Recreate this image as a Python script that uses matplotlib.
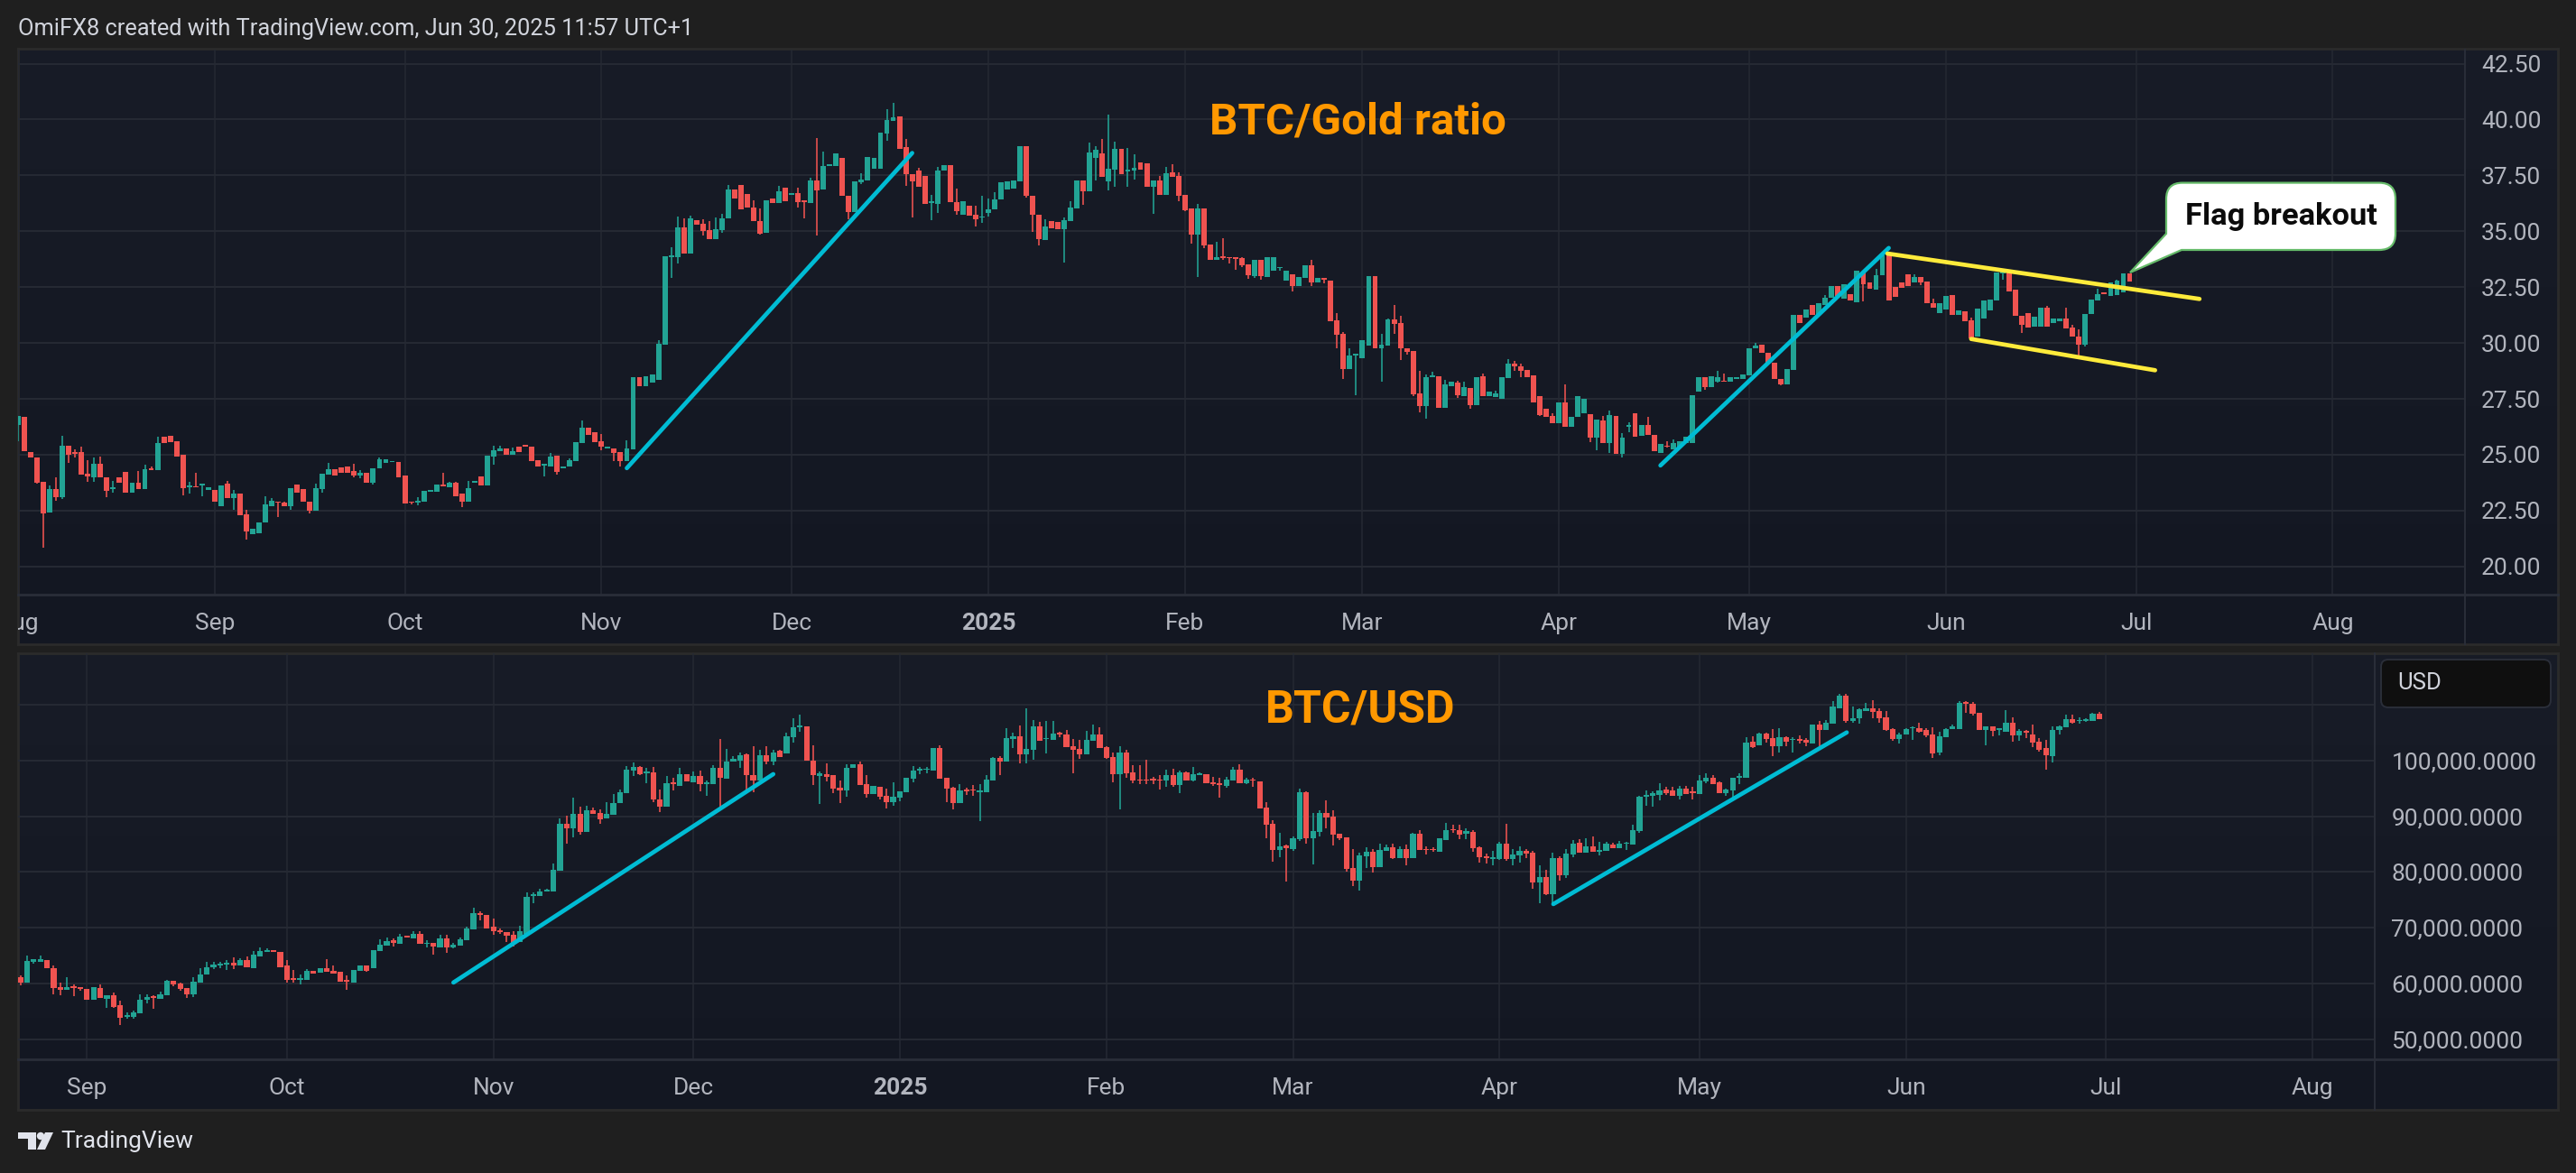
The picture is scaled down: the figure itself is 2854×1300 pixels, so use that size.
import matplotlib
matplotlib.use("Agg")
import matplotlib.pyplot as plt
import matplotlib.dates as mdates
import numpy as np
import pandas as pd
from matplotlib.path import Path
from matplotlib.patches import PathPatch, Polygon, Circle, FancyBboxPatch
from matplotlib.transforms import Affine2D

plt.rcParams['font.family'] = ['Roboto', 'DejaVu Sans']

# ---------- BTC/Gold ratio, daily from 2024-08-01 ----------
ratio_start = '2024-08-01'
ratio_open = [
26.35,26.68,25.10,24.86,23.79,22.41,23.47,23.10,25.42,25.10,
25.12,24.16,23.99,24.60,23.97,23.47,23.99,24.23,23.29,23.75,
23.47,24.40,24.31,25.79,25.85,25.59,25.01,23.55,23.60,23.62,
23.41,23.41,22.69,23.69,23.04,23.27,22.34,21.43,21.49,21.95,
22.71,22.91,22.86,22.69,23.66,23.47,22.91,22.49,23.47,24.10,
24.36,24.42,24.49,24.27,24.07,24.20,23.75,24.38,24.62,24.66,
24.68,24.07,22.90,22.86,22.88,23.36,23.34,23.66,23.53,23.73,
23.25,22.88,23.75,24.03,23.62,24.92,25.16,25.29,25.01,25.38,
25.46,25.36,24.75,24.51,24.49,24.96,24.38,24.47,24.73,25.51,
26.22,25.99,25.61,25.29,25.29,25.12,24.73,25.23,28.45,28.06,
28.24,28.33,29.93,33.83,33.83,35.18,34.01,35.50,35.35,35.07,
34.65,35.07,35.59,36.87,37.08,36.65,36.08,35.46,34.92,36.46,
36.28,36.95,36.61,36.72,36.39,36.28,37.28,36.85,37.93,37.91,
38.27,36.60,35.85,37.20,37.29,37.81,37.81,39.37,39.94,40.12,
38.77,37.55,37.72,37.48,36.25,36.24,37.72,37.96,36.32,35.72,
36.13,35.73,35.60,35.80,35.98,36.42,36.87,36.91,37.25,38.81,
36.58,35.73,34.61,35.46,35.41,35.10,35.46,36.03,37.27,36.79,
38.29,38.48,37.25,37.74,38.68,37.68,37.72,38.06,38.03,36.99,
37.27,36.63,37.62,37.48,36.63,36.01,34.85,36.01,34.42,33.70,
33.87,33.84,33.82,33.78,33.51,33.01,33.72,32.97,33.25,33.34,
32.80,33.06,32.54,32.90,33.47,32.72,32.90,32.78,31.01,30.42,
28.85,29.42,29.30,29.89,32.99,29.78,29.87,31.06,30.90,29.78,
29.63,27.73,27.19,28.49,28.52,27.11,28.06,28.23,27.63,27.99,
27.23,28.52,27.64,27.59,27.52,28.42,29.08,28.97,28.78,28.54,
27.61,27.04,26.75,26.42,27.33,26.26,26.68,26.87,26.81,25.76,
26.54,25.54,26.75,25.02,26.25,26.85,25.83,26.33,25.88,25.09,
25.42,25.26,25.33,25.54,25.54,27.83,28.49,28.04,28.26,28.30,
28.25,28.38,28.40,28.57,29.78,29.92,29.58,29.11,28.40,28.14,
28.78,31.25,31.13,31.70,31.25,31.68,32.01,32.56,31.99,32.20,
31.84,33.20,32.72,32.39,33.03,33.92,32.51,32.70,33.06,32.72,
32.97,32.77,31.80,31.32,31.51,32.13,31.25,31.42,31.02,30.27,
31.11,31.47,31.92,33.11,33.20,32.37,31.20,31.32,30.75,30.75,
31.58,30.89,30.97,31.08,30.70,30.30,29.94,31.28,31.92,32.27,
32.11,32.16,32.25,33.11]
ratio_close = [
26.72,25.14,24.86,23.75,22.39,23.47,23.10,25.42,24.99,25.03,
24.12,24.03,24.60,23.97,23.38,23.55,23.73,23.29,23.75,23.47,
24.36,24.31,25.53,25.53,25.57,24.92,23.51,23.62,23.55,23.69,
23.56,22.88,23.62,23.06,23.27,22.30,21.58,21.69,21.95,22.78,
22.93,22.86,22.71,23.51,23.29,22.91,22.49,23.51,24.14,24.36,
24.08,24.18,24.21,24.05,24.20,23.75,24.38,24.81,24.81,24.71,
23.97,22.82,22.84,22.93,23.40,23.41,23.66,23.58,23.73,23.16,
22.90,23.51,23.82,23.62,24.96,25.20,25.29,24.99,25.16,25.10,
25.36,24.71,24.49,24.60,24.92,24.23,24.47,24.77,25.55,26.22,
25.88,25.55,25.36,25.36,25.09,24.73,25.27,28.45,28.06,28.52,
28.59,29.97,33.90,33.94,35.18,34.01,35.56,35.31,35.02,34.65,
35.11,35.59,36.87,36.46,35.96,36.06,35.44,34.89,36.39,36.28,
36.80,36.35,36.72,36.32,36.32,37.28,36.84,37.91,38.00,38.47,
36.60,35.85,37.25,37.31,38.31,38.27,39.41,39.98,40.10,38.70,
37.55,37.25,36.98,36.24,36.34,37.72,37.96,36.32,35.89,36.34,
35.70,35.53,35.65,35.98,36.44,37.18,37.25,37.27,38.81,36.60,
35.72,34.65,35.22,35.13,35.11,35.51,36.06,37.29,36.79,38.53,
38.65,37.43,37.79,38.70,37.55,37.75,37.84,37.77,36.99,37.29,
36.63,37.60,37.43,36.58,35.92,34.85,36.01,34.35,33.70,33.85,
33.80,33.78,33.77,33.46,33.03,33.70,32.99,33.84,33.84,33.39,
33.22,32.54,32.96,33.47,32.72,32.90,32.84,30.99,30.37,28.85,
29.44,29.52,30.11,32.99,29.78,29.92,31.06,30.87,29.78,29.61,
27.69,27.19,28.47,28.56,27.11,28.14,28.26,27.68,28.02,27.23,
28.49,27.64,27.82,27.75,28.47,29.09,28.94,28.75,28.49,27.35,
26.78,26.68,26.42,27.32,26.26,26.68,27.61,27.51,25.78,26.56,
25.54,26.76,25.04,25.75,26.35,25.80,26.35,25.87,25.14,25.50,
25.37,25.54,25.61,25.80,27.66,28.49,28.01,28.52,28.49,28.25,
28.45,28.49,28.61,29.78,29.90,29.58,29.11,28.40,28.14,28.82,
31.25,30.89,31.49,31.25,31.77,32.03,32.56,32.11,32.63,31.90,
33.23,32.63,32.42,33.04,33.92,31.92,32.08,32.46,32.54,32.97,
32.72,31.80,31.59,31.80,32.11,31.27,31.47,30.99,30.21,31.53,
31.90,31.96,33.15,33.18,32.32,31.20,30.83,30.70,31.16,31.58,
30.75,31.11,31.08,30.66,30.27,29.94,31.28,31.94,32.20,32.20,
32.72,32.78,33.11,32.77]
ratio_high = {4:23.79,5:23.62,6:23.99,7:25.85,9:25.23,10:25.36,11:24.77,12:24.88,13:24.92,15:23.84,19:24.27,20:24.55,21:24.49,22:25.79,
28:24.19,27:23.80,33:23.84,34:23.43,36:22.54,39:23.16,40:23.06,42:22.91,47:23.69,49:24.62,53:24.58,54:24.31,57:24.86,63:23.10,67:24.21,68:23.80,69:23.80,
71:23.84,75:25.42,76:25.42,78:25.33,84:25.07,87:24.84,89:26.53,92:25.92,96:25.64,101:30.12,103:34.29,104:35.67,105:35.57,106:35.68,108:35.54,109:35.44,110:35.63,111:35.76,112:37.06,
116:36.37,117:36.00,120:37.04,123:36.93,125:37.39,126:39.16,127:38.58,133:37.60,137:40.46,138:40.74,140:39.13,142:37.84,144:36.63,145:37.89,148:36.91,151:36.13,152:36.58,153:36.46,154:36.74,
162:35.53,165:35.61,166:36.34,169:38.98,170:38.81,171:39.13,172:40.22,173:39.01,175:38.72,176:38.44,180:37.49,181:37.87,182:38.01,183:37.63,186:36.22,189:34.53,190:34.67,193:33.84,
204:33.70,208:31.34,209:30.47,210:29.78,215:30.39,216:31.11,217:31.68,218:31.20,221:28.75,222:28.61,223:28.70,225:28.35,227:28.32,228:28.26,231:28.63,233:27.87,235:29.28,236:29.18,237:29.09,
242:26.85,244:28.14,250:26.73,251:26.97,253:25.95,254:26.45,257:26.71,260:25.62,261:25.68,268:28.75,269:28.64,274:29.99,285:32.15,293:33.32,299:33.08,302:31.97,308:31.13,313:33.23,320:31.65,323:31.56,324:30.80,325:30.61,328:32.41,331:32.84}
ratio_low = {0:25.60,3:23.71,4:20.84,6:22.95,7:23.01,8:24.64,9:24.86,11:23.80,12:23.80,14:23.12,15:23.29,26:23.19,27:23.25,29:23.16,34:22.54,36:21.19,41:22.21,43:22.54,46:22.36,48:23.29,53:23.99,54:23.93,56:23.66,62:22.77,63:22.75,70:22.64,75:24.55,
83:24.03,85:24.10,92:25.18,94:24.73,95:24.49,103:32.90,104:33.57,108:34.79,111:34.94,117:34.85,123:36.06,124:35.57,126:34.79,131:35.54,133:37.11,137:39.05,140:37.01,141:35.60,144:35.48,145:35.82,148:35.73,151:35.22,152:35.36,153:35.65,
159:36.49,160:34.96,161:34.37,165:33.60,168:36.17,170:37.29,172:36.82,173:36.98,175:36.99,176:37.32,179:35.79,183:36.34,184:35.89,185:34.46,186:32.97,187:34.25,190:33.70,191:33.56,192:33.27,193:33.41,194:32.87,195:32.90,196:32.85,199:33.23,201:32.32,204:32.53,206:32.66,
208:29.78,209:28.38,211:27.66,215:28.28,217:30.42,218:29.25,219:29.47,220:27.63,221:26.90,222:26.63,227:27.54,229:27.07,236:28.75,237:28.49,240:26.73,248:25.56,249:25.18,251:25.09,253:24.87,254:26.02,260:25.31,266:27.92,268:28.23,278:28.11,291:31.85,300:32.59,308:30.09,313:32.85,316:30.44,325:29.44,326:29.83}

# ---------- BTC/USD in thousands of dollars, daily from 2024-08-22 ----------
btc_start = '2024-08-22'
btc_open = [
61.08,60.12,63.95,63.89,64.19,62.81,59.34,58.80,59.58,59.40,
59.04,57.07,59.16,57.31,57.90,56.11,54.01,54.01,54.61,57.01,
57.72,57.31,57.84,60.48,60.00,59.16,58.02,60.12,61.68,62.99,
63.17,63.35,63.71,63.23,64.19,62.69,64.91,65.69,65.93,65.63,
63.29,60.96,60.66,60.60,62.22,61.92,62.81,62.27,62.16,60.60,
60.12,62.27,63.17,62.69,65.87,66.77,67.78,67.19,68.56,68.08,
68.98,67.07,67.31,66.47,68.08,66.47,66.83,67.78,69.76,72.57,
72.28,70.18,69.52,69.28,68.68,67.48,68.98,75.69,75.69,76.53,
76.47,80.30,88.62,87.84,90.48,87.19,91.08,90.60,89.58,90.30,
92.34,94.07,98.20,98.86,97.66,97.84,92.99,91.74,96.11,95.45,
97.49,96.11,97.25,95.75,95.75,98.62,96.77,99.82,99.94,101.08,
97.37,96.41,101.02,99.82,101.74,101.26,104.19,105.93,106.11,100.00,
97.25,97.54,97.31,95.09,94.67,98.68,99.34,95.75,94.01,95.27,
93.65,92.51,93.41,94.31,96.77,98.14,98.32,98.20,102.22,96.89,
95.09,92.34,94.73,94.73,94.31,94.31,96.47,100.48,99.82,103.83,
104.31,101.08,101.92,106.11,103.83,103.71,104.91,104.67,102.51,102.10,
101.08,103.53,104.67,102.46,100.66,97.54,101.44,97.84,96.65,96.65,
96.71,96.59,96.41,97.37,95.63,97.84,96.35,97.37,97.60,96.11,
95.93,95.39,96.41,98.32,95.93,96.65,96.29,91.56,88.62,83.95,
84.73,84.07,85.87,94.37,86.05,87.19,90.54,89.94,86.83,86.29,
80.72,78.44,82.75,83.65,80.84,83.77,84.43,82.51,84.07,82.51,
86.83,84.13,84.19,83.59,85.75,87.60,87.55,86.89,87.25,84.43,
82.75,82.40,82.34,85.03,82.34,82.99,83.71,83.47,78.20,79.10,
75.99,82.51,79.34,83.11,85.21,83.53,84.61,83.65,83.71,84.97,
84.25,85.03,84.91,87.37,93.47,93.71,93.89,94.79,94.61,93.65,
94.91,94.43,94.01,96.29,96.89,96.11,94.13,94.61,96.83,96.89,
103.41,102.69,104.85,104.01,102.51,104.19,103.71,103.83,103.65,103.05,
106.47,105.39,106.59,109.40,111.68,107.01,107.54,108.86,109.28,108.92,
107.66,105.63,103.83,104.61,105.75,105.75,105.45,104.67,101.50,104.13,
105.63,105.63,110.42,110.18,108.62,105.51,106.05,105.51,105.21,106.77,
104.43,105.27,104.67,103.35,102.16,100.84,105.45,105.93,107.43,107.01,
107.13,107.13,108.38]
btc_close = [
60.12,64.01,64.37,64.37,62.81,59.16,58.92,59.34,59.22,59.04,
57.07,59.28,57.43,57.90,55.87,53.83,54.37,54.79,57.07,57.54,
57.43,58.02,60.48,59.76,59.04,58.02,60.30,61.68,62.87,63.35,
63.53,63.77,63.29,64.19,62.93,65.15,65.75,66.05,65.63,62.99,
60.60,60.72,61.02,62.27,61.80,62.81,62.04,61.80,60.30,60.36,
62.39,63.29,62.27,65.99,66.95,67.60,67.36,68.38,68.26,68.98,
67.07,67.36,66.59,68.08,66.47,66.95,67.90,69.88,72.63,72.22,
69.88,69.40,69.22,68.50,67.31,69.40,75.57,75.99,76.47,76.77,
80.36,88.62,87.78,90.48,87.13,91.08,90.42,89.52,90.42,92.40,
94.31,98.32,98.86,97.54,98.02,92.93,91.74,95.87,95.75,97.49,
96.17,97.25,95.75,96.11,98.74,96.83,99.82,100.36,101.02,97.31,
96.41,101.02,99.82,101.44,100.66,104.31,105.99,106.23,100.00,97.31,
97.78,97.13,94.91,94.61,98.68,99.40,95.63,94.01,95.45,93.47,
92.51,93.47,94.49,96.89,98.20,98.44,98.56,102.22,96.77,95.03,
92.34,94.61,94.49,94.55,94.61,96.53,100.48,99.82,104.01,104.31,
101.08,102.04,106.11,103.47,104.01,104.85,104.61,102.46,101.92,101.08,
103.71,104.67,102.22,100.42,97.60,101.44,97.72,96.41,96.47,96.47,
96.47,96.35,97.37,95.63,97.90,96.41,97.60,97.72,95.93,95.69,
95.63,96.65,98.32,95.93,96.53,96.41,91.44,88.56,83.95,84.67,
84.25,86.05,94.31,86.05,87.31,90.66,89.76,86.71,86.05,80.54,
78.44,82.99,83.65,80.84,83.95,84.43,82.45,84.07,82.51,86.83,
83.95,83.95,83.89,85.99,87.43,87.43,86.77,87.31,84.25,82.63,
82.51,82.63,85.03,82.34,83.11,83.83,83.23,78.20,79.10,75.99,
82.51,79.40,83.23,85.15,83.47,84.61,83.59,83.95,85.03,84.25,
85.09,85.21,87.49,93.47,93.83,94.07,94.61,94.13,93.71,94.91,
94.01,94.19,96.35,96.95,95.81,94.13,94.73,96.83,97.25,103.23,
102.46,104.85,103.83,102.63,104.19,103.41,103.89,103.59,103.23,106.47,
105.39,106.71,109.70,111.68,107.01,107.60,109.22,109.28,108.74,107.54,
105.51,103.83,104.73,105.63,105.99,105.21,104.43,101.32,104.31,105.63,
106.11,110.30,110.18,108.38,105.51,106.05,105.33,105.81,106.77,104.49,
105.33,104.91,103.23,101.92,100.96,105.45,106.11,107.43,106.71,107.31,
107.43,108.38,107.49]
btc_high = {0:61.44,1:65.03,3:65.03,5:63.17,6:60.12,7:61.14,8:59.76,12:59.82,14:58.38,15:56.89,16:54.79,17:55.21,18:58.02,19:58.02,20:57.96,21:58.50,22:60.66,24:60.24,26:61.08,27:62.69,28:63.83,29:63.83,30:63.83,31:64.19,32:64.67,33:64.49,34:64.79,35:65.75,36:66.41,37:66.29,
40:64.19,41:62.39,42:61.68,43:62.51,46:64.37,47:63.23,49:61.50,54:67.90,55:68.26,56:68.02,57:68.86,59:69.46,60:69.46,61:67.78,63:68.80,64:68.68,65:67.31,66:68.26,67:70.18,68:73.59,69:72.93,71:71.62,72:69.82,74:69.46,75:70.42,76:76.41,77:76.41,78:77.07,79:77.07,80:81.56,81:89.58,82:90.06,83:93.35,84:91.74,85:91.92,86:91.62,87:91.26,88:92.46,89:93.95,
90:94.73,91:99.04,92:99.64,93:99.04,94:98.62,95:98.80,96:94.85,97:97.25,98:96.83,99:98.62,101:97.96,102:98.20,103:96.35,104:99.10,105:103.83,106:102.10,107:100.72,108:101.44,109:101.32,110:102.51,111:101.92,112:102.51,113:101.86,114:101.92,115:104.91,116:107.60,117:108.20,119:102.69,120:98.02,121:99.46,123:96.41,124:99.40,126:99.82,127:97.31,130:94.97,131:96.11,
134:98.92,135:98.80,136:98.86,138:102.69,140:95.27,141:95.75,142:95.15,143:95.63,144:95.81,145:97.31,146:100.66,147:100.78,148:105.81,149:104.91,150:106.29,151:109.28,152:107.19,153:106.89,154:107.01,155:107.01,156:105.15,157:105.51,158:103.83,159:103.71,160:105.33,161:106.47,162:105.93,163:102.63,164:101.44,165:102.51,166:101.92,167:99.22,168:99.22,169:100.12,170:97.13,171:97.43,172:98.32,173:98.50,174:98.20,175:98.02,176:98.80,177:97.84,179:97.13,180:96.83,181:97.13,182:98.86,183:99.40,184:96.83,185:96.83,
187:92.46,188:89.22,189:86.95,190:84.97,191:86.35,192:95.03,193:94.49,194:90.54,195:91.02,196:92.81,197:91.14,200:84.07,201:83.47,202:84.37,203:84.07,204:85.15,205:84.85,206:85.15,207:84.67,208:84.85,209:87.07,210:87.49,211:84.67,212:84.49,214:88.74,215:88.44,216:88.44,217:87.84,218:87.55,219:84.55,220:83.35,221:83.77,222:85.45,223:88.62,224:84.07,225:84.55,226:84.07,227:83.83,228:81.20,229:80.36,230:83.47,231:82.75,232:84.13,233:85.75,234:85.87,235:86.05,236:86.35,237:85.45,238:85.39,239:85.27,240:85.51,241:85.45,242:88.44,243:93.71,244:94.61,245:94.43,246:95.93,247:95.21,248:95.33,249:95.45,250:95.45,251:95.21,252:97.31,253:97.78,254:97.43,255:96.23,256:95.03,258:97.72,259:104.19,260:104.31,261:105.03,262:105.03,263:105.63,264:105.81,265:104.31,266:104.19,267:104.43,268:104.01,270:107.01,271:107.19,272:110.60,273:111.98,274:111.92,275:109.70,276:109.40,277:110.30,278:110.78,279:109.34,280:108.86,281:105.81,282:104.91,283:105.81,284:106.11,285:106.71,286:105.81,287:105.99,288:105.21,289:105.75,290:106.41,291:110.60,292:110.60,293:110.42,298:109.10,296:106.11,299:107.72,300:105.63,301:105.51,302:106.41,303:104.01,304:103.71,305:106.11,306:106.29,307:108.20,308:108.20,309:107.72,310:107.55,311:108.62,312:108.68}
btc_low = {0:59.70,2:63.59,5:58.02,6:57.96,8:57.78,9:58.74,13:55.69,14:55.69,15:52.52,16:53.65,17:53.71,19:56.41,20:55.51,23:59.58,24:58.68,25:57.43,26:57.60,29:62.51,30:62.81,31:62.39,32:62.57,40:60.12,41:60.12,42:59.88,49:58.92,52:62.10,56:66.59,61:66.47,62:65.21,64:65.57,65:66.29,69:71.38,71:68.80,72:68.98,73:67.48,74:66.71,77:74.37,82:85.03,83:86.23,84:86.77,87:88.62,92:97.25,93:97.37,94:95.93,95:92.57,96:90.72,98:94.61,102:94.43,103:93.65,105:91.14,108:98.74,109:94.13,110:94.25,112:99.34,113:99.10,116:103.23,117:105.21,119:95.63,120:92.22,121:96.23,122:94.13,123:92.34,124:93.53,127:93.41,129:92.93,130:91.44,131:91.92,132:92.63,134:96.11,135:97.60,136:97.78,139:92.51,140:91.26,142:93.77,143:93.71,144:89.16,147:97.37,149:102.22,150:99.46,151:99.52,152:100.12,154:101.32,156:104.19,158:97.72,159:100.30,163:100.30,164:96.11,165:91.26,166:96.83,167:95.93,168:95.75,169:95.75,170:95.75,171:94.85,172:95.33,173:95.33,174:94.13,176:96.23,179:95.45,180:93.35,181:95.09,184:95.75,185:95.33,186:91.38,187:86.11,188:81.86,189:82.63,190:78.26,191:83.83,192:85.57,193:85.15,194:81.44,195:86.35,196:87.84,197:84.73,198:85.75,199:80.06,200:77.48,201:76.65,202:80.66,203:79.88,206:82.34,208:81.26,211:83.17,212:83.59,215:86.95,216:85.87,217:85.93,218:83.65,219:81.68,220:81.56,221:81.20,222:82.16,223:82.04,224:81.26,225:81.68,226:82.45,227:77.07,228:74.37,229:75.87,230:74.25,231:78.44,232:78.86,233:82.63,237:83.05,241:83.95,243:87.07,244:91.86,245:91.74,246:92.81,247:93.83,249:92.93,251:93.05,253:95.93,256:93.65,257:93.23,258:95.81,260:102.16,262:103.23,263:100.84,264:101.50,265:102.51,266:101.44,267:103.11,268:102.63,270:101.92,274:106.83,275:106.71,276:106.59,278:107.60,279:106.71,280:105.33,281:103.53,282:103.11,284:103.71,285:104.91,286:104.13,287:100.48,288:101.02,292:108.50,293:108.08,295:102.69,296:104.31,297:104.55,299:103.41,300:103.59,301:104.01,302:102.40,303:101.62,304:98.32,305:99.70,306:104.61,308:106.59,309:106.53,310:106.95,312:107.43}

# ---------- Trend lines: [day offset from the series start], [value] ----------
ratio_rise_a = ([96, 141], [24.40, 38.50])
ratio_rise_b = ([259, 295], [24.52, 34.25])
flag_upper = ([294.8, 344], [34.00, 31.97])
flag_lower = ([308, 337], [30.18, 28.78])
btc_rise_a = ([65, 113], [60.18, 97.55])
btc_rise_b = ([230.07, 274.1], [74.25, 105.03])

month_starts_top = pd.date_range('2024-08-01', '2025-08-01', freq='MS')
month_starts_bot = pd.date_range('2024-09-01', '2025-08-01', freq='MS')
month_names = {1: '2025', 2: 'Feb', 3: 'Mar', 4: 'Apr', 5: 'May', 6: 'Jun', 7: 'Jul', 8: 'Aug',
               9: 'Sep', 10: 'Oct', 11: 'Nov', 12: 'Dec'}
ratio_ticks = [20, 22.5, 25, 27.5, 30, 32.5, 35, 37.5, 40, 42.5]
btc_ticks = [50, 60, 70, 80, 90, 100, 110]

# ---------- Style ----------
W, H = 2854, 1300
OUTER = '#1f1f1f'
PANEL_TOP = '#181c27'
PANEL_BOT = '#131722'
BORDER = '#2a2e39'
GRID = '#252933'
UP = '#22a394'
DOWN = '#ef5350'
CYAN = '#00bcd4'
YELLOW = '#ffeb3b'
ORANGE = '#ff9800'
LABEL = '#b2b5be'

fig = plt.figure(figsize=(W / 100, H / 100), dpi=100, facecolor=OUTER)
px = Affine2D().scale(1 / W, -1 / H).translate(0, 1) + fig.transFigure


def axes_px(x0, y0, x1, y1, **kw):
    return fig.add_axes([x0 / W, 1 - y1 / H, (x1 - x0) / W, (y1 - y0) / H], **kw)


def panel(x0, y0, x1, y1):
    a = axes_px(x0, y0, x1, y1, zorder=0)
    g = np.linspace(0, 1, 256)[:, None, None]
    c0 = np.array(matplotlib.colors.to_rgb(PANEL_TOP))
    c1 = np.array(matplotlib.colors.to_rgb(PANEL_BOT))
    a.imshow(c0 + (c1 - c0) * g, aspect='auto', extent=(0, 1, 0, 1))
    a.set_xticks([])
    a.set_yticks([])
    for s in a.spines.values():
        s.set_color('#2b2b2b')
        s.set_linewidth(2.0)
    return a


def chart(box, start, o, c, hi, lo, xlim_days, ylim, months, yticks, ylabels, scale=1.0):
    a = axes_px(*box, zorder=1)
    a.patch.set_alpha(0)
    base = mdates.date2num(pd.Timestamp(start))
    o = np.array(o, dtype=float) * scale
    c = np.array(c, dtype=float) * scale
    n = min(len(o), len(c))
    o, c = o[:n], c[:n]
    x = base + np.arange(n)
    top = np.maximum(o, c)
    bot = np.minimum(o, c)
    hv = top.copy()
    lv = bot.copy()
    for k, v in hi.items():
        if k < n:
            hv[k] = max(v * scale, top[k])
    for k, v in lo.items():
        if k < n:
            lv[k] = min(v * scale, bot[k])
    up = c >= o
    cols = np.where(up, UP, DOWN)
    a.vlines(x, lv, hv, colors=cols, linewidth=1.15, zorder=3)
    a.bar(x, top - bot, bottom=bot, width=0.84, color=cols, linewidth=0, zorder=3)
    a.set_xlim(base + xlim_days[0], base + xlim_days[1])
    a.set_ylim(*ylim)
    a.set_yticks(yticks)
    a.set_yticklabels(ylabels)
    a.yaxis.tick_right()
    a.set_xticks(mdates.date2num(months))
    a.set_xticklabels([month_names[m.month] for m in months])
    a.tick_params(axis='both', length=0, labelcolor=LABEL, labelsize=19)
    a.tick_params(axis='x', pad=14.2)
    a.tick_params(axis='y', pad=13.5)
    for lab, m in zip(a.get_xticklabels(), months):
        if m.month == 1:
            lab.set_fontweight('bold')
    a.grid(True, axis='y', color=GRID, linewidth=1.5, zorder=1)
    a.grid(True, axis='x', color=GRID, linewidth=1.1, zorder=1)
    a.set_axisbelow(True)
    a.spines['top'].set_visible(False)
    a.spines['left'].set_visible(False)
    a.spines['bottom'].set_color(BORDER)
    a.spines['bottom'].set_linewidth(2.0)
    a.spines['right'].set_visible(False)
    return a, base


def line(a, base, seg, color, lw=3.4):
    a.plot(base + np.array(seg[0]), seg[1], color=color, lw=lw, solid_capstyle='round', zorder=5)


# ---------- Top chart ----------
bg1 = panel(20, 54, 2834, 714)
ax1, b1 = chart((20, 55, 2730.5, 659), ratio_start, ratio_open, ratio_close, ratio_high, ratio_low,
                (0, 385.8), (18.74, 43.126), month_starts_top, ratio_ticks,
                [f'{v:.2f}' for v in ratio_ticks])
line(ax1, b1, ratio_rise_a, CYAN)
line(ax1, b1, ratio_rise_b, CYAN)
line(ax1, b1, flag_upper, YELLOW)
line(ax1, b1, flag_lower, YELLOW)
first = ax1.get_xticklabels()[0]
first.set_clip_on(True)
first.set_clip_box(bg1.bbox)

# ---------- Bottom chart ----------
bg2 = panel(20, 724, 2834, 1230)
ax2, b2 = chart((20, 724.4, 2630.7, 1174.3), btc_start, btc_open, btc_close, btc_high, btc_low,
                (-0.34, 353.3), (46.36, 119.16), month_starts_bot, btc_ticks,
                [f'{v * 1000:,.4f}' if v < 110 else '' for v in btc_ticks])
line(ax2, b2, btc_rise_a, CYAN)
line(ax2, b2, btc_rise_b, CYAN)

# strip separators
fig.add_artist(plt.Line2D([2730.5, 2730.5], [55, 714], color=BORDER, lw=1.4, transform=px))
fig.add_artist(plt.Line2D([2730.5, 2834], [659, 659], color=BORDER, lw=2.0, transform=px))
fig.add_artist(plt.Line2D([2630.7, 2630.7], [724, 1230], color=BORDER, lw=1.4, transform=px))
fig.add_artist(plt.Line2D([2630.7, 2834], [1174.3, 1174.3], color=BORDER, lw=2.0, transform=px))

# ---------- Texts ----------
fig.text(20 / W, 1 - 32 / H, 'OmiFX8 created with TradingView.com, Jun 30, 2025 11:57 UTC+1',
         color='#d1d4dc', fontsize=18.3, va='center', ha='left')
fig.text(1504 / W, 1 - 135 / H, 'BTC/Gold ratio', color=ORANGE, fontsize=35.5, fontweight='bold',
         va='center', ha='center', zorder=6)
fig.text(1507 / W, 1 - 787 / H, 'BTC/USD', color=ORANGE, fontsize=36, fontweight='bold',
         va='center', ha='center', zorder=6)

# ---------- Callout ----------
x0, y0, x1, y1, r = 2400, 202.6, 2654, 277, 18
verts = [(x0 + r, y0), (x1 - r, y0), (x1, y0), (x1, y0 + r), (x1, y1 - r), (x1, y1), (x1 - r, y1),
         (2417, y1), (2360, 302), (x0, 259), (x0, y0 + r), (x0, y0), (x0 + r, y0), (x0 + r, y0)]
codes = [Path.MOVETO, Path.LINETO, Path.CURVE3, Path.CURVE3, Path.LINETO, Path.CURVE3, Path.CURVE3,
         Path.LINETO, Path.LINETO, Path.LINETO, Path.LINETO, Path.CURVE3, Path.CURVE3, Path.CLOSEPOLY]
callout = PathPatch(Path(verts, codes), facecolor='white', edgecolor='#66bb6a', lw=1.6,
                    transform=px, zorder=7)
fig.add_artist(callout)
fig.text(2527 / W, 1 - 240 / H, 'Flag breakout', color='#0b0b0b', fontsize=24.8, fontweight='bold',
         va='center', ha='center', zorder=8)

# ---------- USD box ----------
fig.add_artist(FancyBboxPatch((2644, 737), 176, 41, boxstyle='round,pad=6,rounding_size=8',
                              facecolor='#0f0f0f', edgecolor=BORDER, lw=1.4, transform=px, zorder=7,
                              mutation_aspect=1))
fig.text(2656 / W, 1 - 757 / H, 'USD', color='#d1d4dc', fontsize=18.5, va='center', ha='left', zorder=8)

# ---------- Logo ----------
LOGO = '#e0e3eb'
fig.add_artist(Polygon([(20, 1255), (40, 1255), (40, 1274), (31, 1274), (31, 1262), (20, 1262)],
                       closed=True, facecolor=LOGO, edgecolor='none', transform=px))
fig.add_artist(Circle((45, 1259), 4.2, facecolor=LOGO, edgecolor='none', transform=px))
fig.add_artist(Polygon([(50, 1255), (59, 1255), (50, 1274), (41, 1274)],
                       closed=True, facecolor=LOGO, edgecolor='none', transform=px))
fig.text(67 / W, 1 - 1265 / H, 'TradingView', color=LOGO, fontsize=19, va='center', ha='left')

fig.savefig('out.png', dpi=100, facecolor=OUTER)
